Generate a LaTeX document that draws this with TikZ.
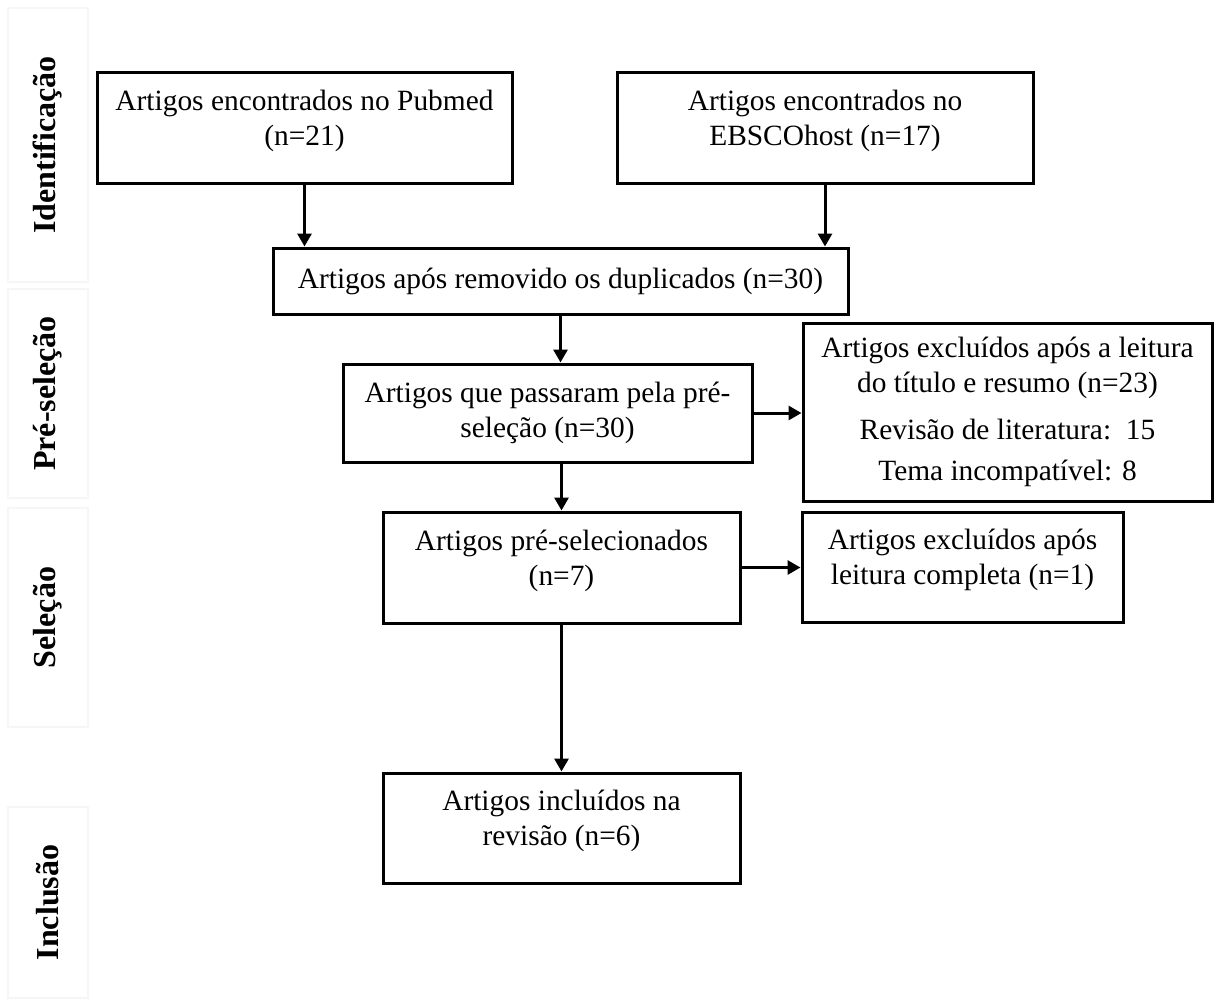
\documentclass[tikz,border=0pt]{standalone}
\usepackage{fontspec}
\setmainfont{Liberation Serif}
\usetikzlibrary{arrows.meta}
\definecolor{lanegray}{RGB}{246, 246, 246}

\tikzset{
    box/.style    = {draw, line width=1.5pt, align=center, inner sep=0pt,
                     font=\fontsize{14.7}{17.5}\selectfont},
    topbox/.style = {box, text depth=10pt},
    lane/.style   = {draw=lanegray, line width=0.6pt, rotate=90, inner sep=0pt,
                     font=\fontsize{16}{19}\selectfont\bfseries},
    flow/.style   = {line width=1.5pt, -{Triangle[length=6.5pt, width=7pt]}}
}

\begin{document}
\begin{tikzpicture}[x=0.5pt, y=-0.5pt]
        \useasboundingbox (0,0) rectangle (1214,998);
        % fases
        \node[lane, minimum width=137pt,   minimum height=40pt] (lident)  at (48, 145.0) {Identificação};
        \node[lane, minimum width=104.5pt, minimum height=40pt] (lpresel) at (48, 393.5) {Pré-seleção};
        \node[lane, minimum width=109.5pt, minimum height=40pt] (lselec)  at (48, 617.5) {Seleção};
        \node[lane, minimum width=95.5pt,  minimum height=40pt] (lincl)   at (48, 902.5) {Inclusão};
        % caixas
        \node[topbox, minimum width=207.5pt, minimum height=55.5pt] (pubmed)   at ( 304.5, 127.5) {Artigos encontrados no Pubmed\\(n=21)};
        \node[topbox, minimum width=208pt,   minimum height=55.5pt] (ebsco)    at ( 825.0, 127.5) {Artigos encontrados no\\EBSCOhost (n=17)};
        \node[box,    minimum width=287.5pt, minimum height=33pt]   (dupl)     at ( 560.5, 281.0) {Artigos após removido os duplicados (n=30)};
        \node[box,    minimum width=204.5pt, minimum height=49pt]   (presel)   at ( 547.5, 413.0) {Artigos que passaram pela pré-\\seleção (n=30)};
        \node[box,    minimum width=204.5pt, minimum height=89pt]   (excltit)  at (1007.5, 412.0) {Artigos excluídos após a leitura\\do título e resumo (n=23)\\[6pt]Revisão de literatura:~~15\\[3pt]Tema incompatível: 8};
        \node[topbox, minimum width=178.5pt, minimum height=55.5pt] (preseld)  at ( 561.5, 567.5) {Artigos pré-selecionados\\(n=7)};
        \node[topbox, minimum width=160.5pt, minimum height=55pt]   (exclfull) at ( 962.5, 567.0) {Artigos excluídos após\\leitura completa (n=1)};
        \node[topbox, minimum width=178.5pt, minimum height=55pt]   (incl)     at ( 561.5, 828.0) {Artigos incluídos na\\revisão (n=6)};
        % setas
        \draw[flow] (pubmed.south)         -- (pubmed.south |- dupl.north);
        \draw[flow] (ebsco.south)          -- (ebsco.south |- dupl.north);
        \draw[flow] (dupl.south)           -- (dupl.south |- presel.north);
        \draw[flow] (preseld.north |- presel.south) -- (preseld.north);
        \draw[flow] (preseld.south)        -- (incl.north);
        \draw[flow] (presel.east)          -- (presel.east -| excltit.west);
        \draw[flow] (preseld.east)         -- (preseld.east -| exclfull.west);
\end{tikzpicture}
\end{document}
